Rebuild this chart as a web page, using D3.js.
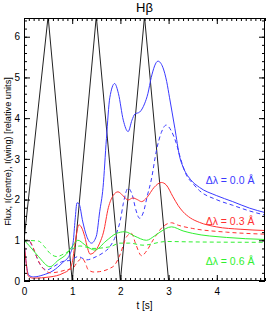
<!DOCTYPE html>
<html>
<head>
<meta charset="utf-8">
<script src="https://cdn.jsdelivr.net/npm/d3@7"></script>
<style>
  body { margin: 0; background: #fff; }
  svg text { font-family: "Liberation Sans", Arial, sans-serif; }
</style>
</head>
<body>
<div id="grafico"></div>
<script>
// datos: [t (s), flujo relativo]
const flujo = [[0,1],[0.5,6.5],[1,0],[1.5,6.5],[2,0],[2.5,6.5],[3,0],[5,0]];

const centro00 = [[0,1.0],[0.04,0.5],[0.1,0.14],[0.2,0.1],[0.4,0.15],[0.6,0.25],[0.8,0.45],[0.95,0.65],[1.02,0.95],[1.06,1.5],[1.1,1.92],[1.14,1.9],[1.22,1.45],[1.3,1.1],[1.4,0.93],[1.5,1.1],[1.57,1.7],[1.64,2.3],[1.71,3.5],[1.78,4.5],[1.88,4.85],[1.96,4.6],[2.06,3.95],[2.16,3.67],[2.24,3.95],[2.3,4.1],[2.4,4.15],[2.5,4.35],[2.57,4.6],[2.64,5.0],[2.78,5.4],[2.88,5.25],[2.96,4.9],[3.02,4.5],[3.13,3.75],[3.23,3.05],[3.3,2.8],[3.45,2.5],[3.64,2.3],[3.99,2.1],[4.33,1.95],[4.68,1.79],[5,1.68]];
const ala00 = [[0,1.0],[0.1,1.0],[0.16,0.88],[0.23,0.69],[0.3,0.48],[0.37,0.35],[0.47,0.27],[0.61,0.35],[0.78,0.47],[0.99,0.52],[1.12,0.6],[1.3,0.52],[1.5,0.6],[1.65,0.7],[1.78,0.84],[1.92,1.17],[2.0,1.5],[2.06,1.9],[2.16,2.28],[2.25,2.1],[2.32,1.75],[2.4,1.54],[2.48,1.7],[2.56,2.1],[2.64,2.48],[2.75,3.22],[2.85,3.65],[2.95,3.83],[3.05,3.7],[3.16,3.38],[3.25,3.0],[3.37,2.6],[3.5,2.4],[3.64,2.22],[3.99,2.0],[4.33,1.86],[4.68,1.72],[5,1.62]];

const centro03 = [[0,1.0],[0.04,0.5],[0.09,0.12],[0.19,0.07],[0.54,0.1],[0.81,0.19],[0.95,0.3],[1.0,0.45],[1.06,0.93],[1.14,1.38],[1.2,1.3],[1.26,1.09],[1.32,0.8],[1.37,0.66],[1.45,0.7],[1.57,0.93],[1.65,1.2],[1.75,1.8],[1.85,2.1],[1.95,2.19],[2.05,2.1],[2.16,1.99],[2.26,2.04],[2.35,2.0],[2.44,1.95],[2.55,2.05],[2.7,2.3],[2.85,2.42],[2.95,2.36],[3.09,2.07],[3.2,1.85],[3.3,1.7],[3.45,1.55],[3.64,1.44],[3.99,1.33],[4.5,1.27],[5,1.24]];
const ala03 = [[0,1.0],[0.1,1.0],[0.18,0.85],[0.26,0.6],[0.34,0.4],[0.45,0.25],[0.55,0.2],[0.7,0.22],[0.9,0.28],[1.0,0.3],[1.1,0.45],[1.2,0.56],[1.27,0.45],[1.33,0.28],[1.45,0.22],[1.57,0.23],[1.78,0.31],[1.88,0.39],[1.99,0.64],[2.13,1.09],[2.23,1.17],[2.32,0.9],[2.44,0.62],[2.55,0.75],[2.68,1.01],[2.88,1.33],[3.06,1.43],[3.2,1.37],[3.5,1.29],[4.2,1.2],[5,1.15]];

const centro06 = [[0,1.0],[0.1,0.88],[0.3,0.6],[0.54,0.35],[0.7,0.5],[0.88,0.66],[1.0,0.85],[1.12,1.0],[1.25,0.9],[1.37,0.8],[1.47,0.76],[1.7,0.98],[1.92,1.17],[2.09,1.21],[2.3,1.1],[2.54,1.0],[2.7,1.1],[2.82,1.2],[3.06,1.33],[3.3,1.23],[3.5,1.17],[4.2,1.07],[5,1.02]];
const ala06 = [[0,1.0],[0.3,0.98],[0.42,0.85],[0.54,0.68],[0.68,0.6],[0.88,0.7],[1.16,0.86],[1.43,0.8],[1.78,0.84],[1.99,0.93],[2.19,0.93],[2.47,0.88],[2.95,0.97],[3.5,0.96],[5,0.95]];

const etiquetas = ["\u0394\u03bb = 0.0 \u00c5", "\u0394\u03bb = 0.3 \u00c5", "\u0394\u03bb = 0.6 \u00c5"];
const posEtiquetas = [[4.78, 2.38], [4.78, 1.38], [4.78, 0.39]];
const colores = ["#3a3aff", "#ff3030", "#30f030"];

const ticksX = [0, 1, 2, 3, 4];
const ticksY = [0, 1, 2, 3, 4, 5, 6];

const width = 267, height = 312;
const margin = {top: 18, right: 2, bottom: 31, left: 24};

const svg = d3.select("#grafico").append("svg")
    .attr("width", width)
    .attr("height", height);

const x = d3.scaleLinear().domain([0, 5]).range([margin.left, width - margin.right]);
const y = d3.scaleLinear().domain([0, 6.46]).range([height - margin.bottom, margin.top]);

svg.append("clipPath").attr("id", "recorte")
  .append("rect")
    .attr("x", margin.left).attr("y", margin.top)
    .attr("width", x.range()[1] - margin.left)
    .attr("height", y.range()[0] - margin.top);

const g = svg.append("g").attr("clip-path", "url(#recorte)");

const linea = d3.line().x(d => x(d[0])).y(d => y(d[1]));
const curva = d3.line().x(d => x(d[0])).y(d => y(d[1])).curve(d3.curveMonotoneX);

g.append("path").datum(flujo)
    .attr("d", linea).attr("fill", "none")
    .attr("stroke", "#222").attr("stroke-width", 1);

const series = [
  {d: centro00, c: colores[0], dash: null},
  {d: ala00, c: colores[0], dash: "4,3"},
  {d: centro03, c: colores[1], dash: null},
  {d: ala03, c: colores[1], dash: "4,3"},
  {d: centro06, c: colores[2], dash: null},
  {d: ala06, c: colores[2], dash: "4,3"}
];

series.forEach(s => {
  g.append("path").datum(s.d)
    .attr("d", curva).attr("fill", "none")
    .attr("stroke", s.c).attr("stroke-width", 1)
    .attr("stroke-dasharray", s.dash);
});

// ejes con ticks hacia dentro, por los cuatro lados
function eje(axis, tr) {
  svg.append("g").attr("transform", tr).call(axis)
    .call(a => a.select(".domain").remove())
    .call(a => a.selectAll("line").attr("stroke", "#000"));
}

const xMenor = d3.range(0, 5.001, 0.1);
const yMenor = d3.range(0, 6.5, 0.2);
const yb = y(0), yt = margin.top, xl = margin.left, xr = x(5);

eje(d3.axisBottom(x).tickValues(xMenor).tickSize(-3).tickFormat(""), `translate(0,${yb})`);
eje(d3.axisBottom(x).tickValues(ticksX).tickSize(-6).tickFormat(d3.format("d")).tickPadding(7), `translate(0,${yb})`);
eje(d3.axisTop(x).tickValues(xMenor).tickSize(-3).tickFormat(""), `translate(0,${yt})`);
eje(d3.axisTop(x).tickValues(ticksX).tickSize(-6).tickFormat(""), `translate(0,${yt})`);
eje(d3.axisLeft(y).tickValues(yMenor).tickSize(-3).tickFormat(""), `translate(${xl},0)`);
eje(d3.axisLeft(y).tickValues(ticksY).tickSize(-6).tickFormat(d3.format("d")).tickPadding(4), `translate(${xl},0)`);
eje(d3.axisRight(y).tickValues(yMenor).tickSize(-3).tickFormat(""), `translate(${xr},0)`);
eje(d3.axisRight(y).tickValues(ticksY).tickSize(-6).tickFormat(""), `translate(${xr},0)`);

svg.selectAll(".tick text").attr("font-size", 10).attr("fill", "#000")
   .attr("font-family", "Liberation Sans, Arial, sans-serif");

svg.append("rect")
    .attr("x", xl + 0.5).attr("y", yt + 0.5)
    .attr("width", xr - xl - 1).attr("height", yb - yt - 1)
    .attr("fill", "none").attr("stroke", "#000").attr("stroke-width", 1);

svg.append("text")
    .attr("x", (xl + xr) / 2).attr("y", 12)
    .attr("text-anchor", "middle").attr("font-size", 13)
    .text("H\u03b2");

svg.append("text")
    .attr("x", (xl + xr) / 2).attr("y", 309)
    .attr("text-anchor", "middle").attr("font-size", 10)
    .text("t [s]");

svg.append("text")
    .attr("transform", `translate(11,${(yt + yb) / 2 + 2}) rotate(-90)`)
    .attr("text-anchor", "middle").attr("font-size", 9.2)
    .text("Flux, I(centre), I(wing) [relative units]");

etiquetas.forEach((t, i) => {
  svg.append("text")
    .attr("x", x(posEtiquetas[i][0])).attr("y", y(posEtiquetas[i][1]))
    .attr("text-anchor", "end").attr("font-size", 10.5)
    .attr("fill", colores[i])
    .text(t);
});
</script>
</body>
</html>
